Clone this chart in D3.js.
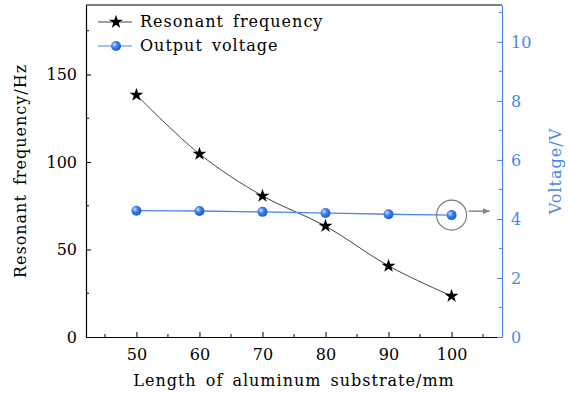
<!DOCTYPE html>
<html lang="en">
<head>
<meta charset="utf-8">
<title>Resonant frequency and output voltage</title>
<script src="https://cdn.jsdelivr.net/npm/d3@7"></script>
<style>
  body { margin: 0; background: #fff; }
  text { font-family: "DejaVu Serif", serif; }
  .label { letter-spacing: 1px; word-spacing: 3px; }
</style>
</head>
<body>
<div class="chart"></div>
<script>
var lengths = [50, 60, 70, 80, 90, 100];
var frequency = [138.3, 104.6, 80.6, 63.4, 40.6, 23.4];
var voltage = [4.28, 4.27, 4.24, 4.20, 4.16, 4.13];
var xTicks = [50, 60, 70, 80, 90, 100];
var yLeftTicks = [0, 50, 100, 150];
var yRightTicks = [0, 2, 4, 6, 8, 10];
var seriesNames = ["Resonant frequency", "Output voltage"];

var W = 569, H = 394;
var m = {top: 5, right: 67, bottom: 57, left: 86};
var w = W - m.left - m.right,
    h = H - m.top - m.bottom;
var blue = "#4a86e8", dark = "#444";
var fs = "16px";

var svg = d3.select(".chart").append("svg")
  .attr("width", W).attr("height", H);

var defs = svg.append("defs");
var grad = defs.append("radialGradient").attr("id", "ball")
  .attr("cx", "35%").attr("cy", "35%").attr("r", "65%");
grad.append("stop").attr("offset", "0%").attr("stop-color", "#cfe0ff");
grad.append("stop").attr("offset", "45%").attr("stop-color", "#3d7ff0");
grad.append("stop").attr("offset", "100%").attr("stop-color", "#1f5cc8");
defs.append("marker").attr("id", "arrow")
  .attr("viewBox", "0 0 10 10").attr("refX", 9).attr("refY", 5)
  .attr("markerWidth", 5).attr("markerHeight", 5).attr("orient", "auto")
  .append("path").attr("d", "M0,1L10,5L0,9Z").attr("fill", "#888");

var g = svg.append("g").attr("transform", "translate(" + m.left + "," + m.top + ")");

var x = d3.scaleLinear().domain([42, 108]).range([0, w]);
var yL = d3.scaleLinear().domain([0, 189.7]).range([h, 0]);
var yR = d3.scaleLinear().domain([0, 11.25]).range([h, 0]);

// frame
g.append("line").attr("x1", 0).attr("x2", w).attr("y1", 0).attr("y2", 0)
  .attr("stroke", "#000").attr("stroke-width", 1.2);

function styleAxis(sel, col) {
  sel.select(".domain").attr("stroke", col).attr("stroke-width", 1.2);
  sel.selectAll(".tick line").attr("stroke", col);
  sel.selectAll(".tick text").attr("fill", col).style("font-size", fs)
    .style("font-family", "'DejaVu Serif', serif");
}

// minor ticks
var xMinor = d3.range(45, 108, 10);
g.selectAll(".xminor").data(xMinor).enter().append("line")
  .attr("x1", d => x(d)).attr("x2", d => x(d)).attr("y1", h).attr("y2", h - 3)
  .attr("stroke", "#000");
g.selectAll(".ylminor").data([25, 75, 125, 175]).enter().append("line")
  .attr("x1", 0).attr("x2", 3).attr("y1", d => yL(d)).attr("y2", d => yL(d))
  .attr("stroke", "#000");
g.selectAll(".yrminor").data([1, 3, 5, 7, 9, 11]).enter().append("line")
  .attr("x1", w).attr("x2", w - 3).attr("y1", d => yR(d)).attr("y2", d => yR(d))
  .attr("stroke", blue);

var xAxis = g.append("g").attr("transform", "translate(0," + h + ")")
  .call(d3.axisBottom(x).tickValues(xTicks).tickSizeInner(-5).tickSizeOuter(0).tickPadding(12));
styleAxis(xAxis, "#000");

var yAxisL = g.append("g")
  .call(d3.axisLeft(yL).tickValues(yLeftTicks).tickSizeInner(-5).tickSizeOuter(0).tickPadding(9));
styleAxis(yAxisL, "#000");

var yAxisR = g.append("g").attr("transform", "translate(" + w + ",0)")
  .call(d3.axisRight(yR).tickValues(yRightTicks).tickSizeInner(-5).tickSizeOuter(0).tickPadding(9));
styleAxis(yAxisR, blue);

// axis titles
svg.append("text").attr("class", "label").attr("x", m.left + x(75)).attr("y", 386)
  .attr("text-anchor", "middle").style("font-size", fs)
  .text("Length of aluminum substrate/mm");
svg.append("text").attr("class", "label").attr("transform", "translate(26," + (m.top + h / 2) + ") rotate(-90)")
  .attr("text-anchor", "middle").style("font-size", fs)
  .text("Resonant frequency/Hz");
svg.append("text").attr("class", "label").attr("transform", "translate(561," + (m.top + h / 2) + ") rotate(-90)")
  .attr("text-anchor", "middle").style("font-size", fs).attr("fill", blue)
  .text("Voltage/V");

// series
var fData = lengths.map((d, i) => [d, frequency[i]]);
var vData = lengths.map((d, i) => [d, voltage[i]]);

g.append("path").datum(fData)
  .attr("d", d3.line().x(d => x(d[0])).y(d => yL(d[1])).curve(d3.curveCatmullRom))
  .attr("fill", "none").attr("stroke", dark).attr("stroke-width", 1);
g.append("path").datum(vData)
  .attr("d", d3.line().x(d => x(d[0])).y(d => yR(d[1])).curve(d3.curveCatmullRom))
  .attr("fill", "none").attr("stroke", blue).attr("stroke-width", 1.3);

var star = d3.symbol().type(d3.symbolStar).size(60);
g.selectAll(".star").data(fData).enter().append("path")
  .attr("d", star).attr("transform", d => "translate(" + x(d[0]) + "," + yL(d[1]) + ")")
  .attr("fill", "#000");
g.selectAll(".ball").data(vData).enter().append("circle")
  .attr("cx", d => x(d[0])).attr("cy", d => yR(d[1])).attr("r", 5)
  .attr("fill", "url(#ball)");

// annotation: circle around last voltage point and arrow to right axis
var last = vData[vData.length - 1];
g.append("circle").attr("cx", x(last[0])).attr("cy", yR(last[1])).attr("r", 15)
  .attr("fill", "none").attr("stroke", "#777").attr("stroke-width", 1.1);
g.append("line")
  .attr("x1", x(last[0]) + 17).attr("y1", yR(last[1]) - 4)
  .attr("x2", x(last[0]) + 38).attr("y2", yR(last[1]) - 4)
  .attr("stroke", "#888").attr("stroke-width", 1.5).attr("marker-end", "url(#arrow)");

// legend
var leg = g.append("g").attr("transform", "translate(12,17)");
seriesNames.forEach(function(name, i) {
  var row = leg.append("g").attr("transform", "translate(0," + (i * 24) + ")");
  row.append("line").attr("x1", 0).attr("x2", 34).attr("y1", 0).attr("y2", 0)
    .attr("stroke", i === 0 ? dark : blue).attr("stroke-width", 1.2);
  if (i === 0) {
    row.append("path").attr("d", star).attr("transform", "translate(18,0)").attr("fill", "#000");
  } else {
    row.append("circle").attr("cx", 18).attr("cy", 0).attr("r", 5).attr("fill", "url(#ball)");
  }
  row.append("text").attr("class", "label").attr("x", 42).attr("y", 5).style("font-size", fs).text(name);
});
</script>
</body>
</html>
